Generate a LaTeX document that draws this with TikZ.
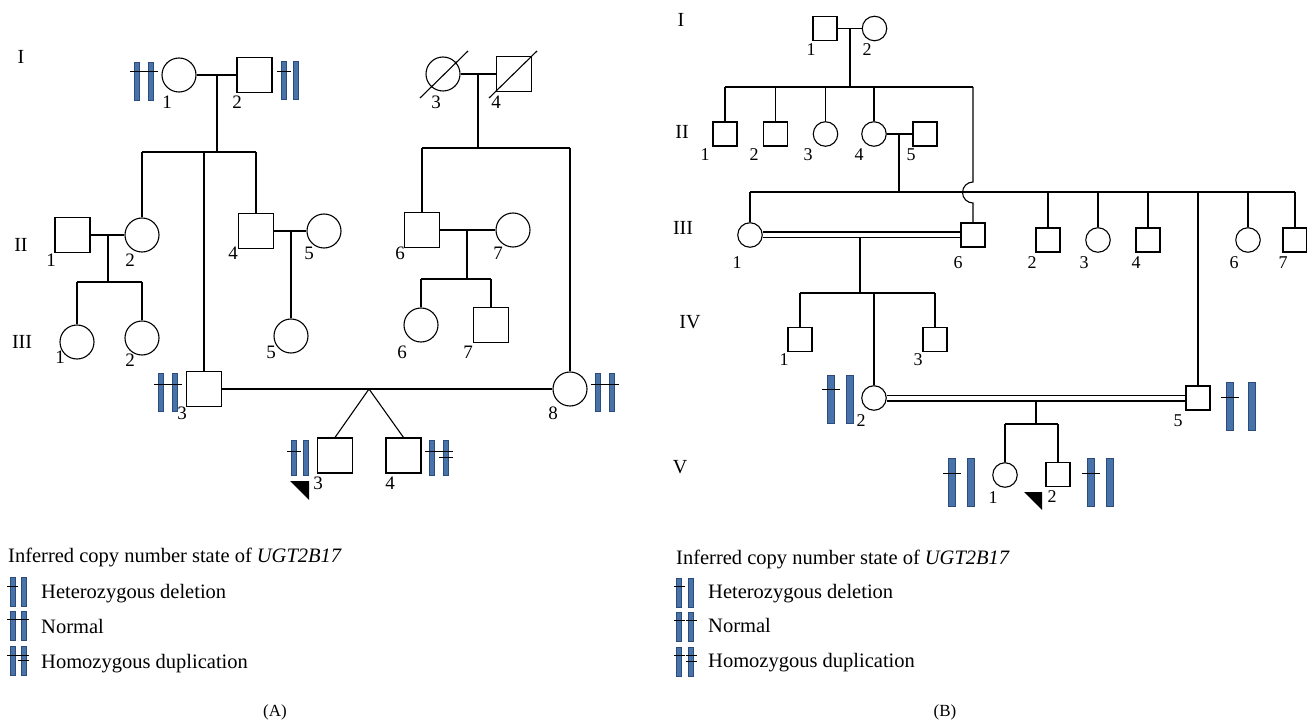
\documentclass[tikz,border=0pt]{standalone}
\usepackage{fontspec}
\setmainfont{Liberation Serif}
\definecolor{chrfill}{RGB}{72,114,170}
\definecolor{chredge}{RGB}{45,75,120}
\newcommand{\tickat}[3]{\draw[tk] ({#1-#3},#2) -- ({#1+#3},#2);}
\begin{document}
\begin{tikzpicture}[x=1pt,y=-1pt,
 ped/.style={draw, line width=1.1pt, fill=white, inner sep=0pt},
 maleA/.style={ped, rectangle, minimum size=35pt},
 femA/.style={ped, circle, minimum size=34pt},
 maleB/.style={ped, rectangle, minimum size=24pt},
 femB/.style={ped, circle, minimum size=24.5pt},
 lnk/.style={line width=1.1pt},
 dbl/.style={line width=1.1pt, double, double distance=4.8pt},
 num/.style={inner sep=0pt, font=\fontsize{19}{22}\selectfont},
 numB/.style={inner sep=0pt, font=\fontsize{18}{21}\selectfont},
 gen/.style={inner sep=0pt, font=\fontsize{20}{24}\selectfont},
 chr/.style={rectangle, fill=chrfill, draw=chredge, line width=0.5pt, inner sep=0pt},
 chrA/.style={chr, minimum width=5pt, minimum height=38pt},
 chrA2/.style={chr, minimum width=5pt, minimum height=35pt},
 chrB/.style={chr, minimum width=7pt, minimum height=48pt},
 chrL/.style={chr, minimum width=5pt, minimum height=29pt},
 tk/.style={line width=1pt},
 leg/.style={anchor=base west, inner sep=0pt, font=\fontsize{20.5}{24}\selectfont},
 captxt/.style={inner sep=0pt, font=\fontsize{17}{20}\selectfont}
]
\useasboundingbox (0,0) rectangle (1307,722);

% ================= PANEL A =================
\coordinate (mA1) at (217,75);  \coordinate (sA1) at (217,152);
\coordinate (sA1l) at (142,152); \coordinate (sA1m) at (204,152); \coordinate (sA1r) at (256,152);
\coordinate (mA2) at (478,74);  \coordinate (sA2) at (478,148);
\coordinate (sA2l) at (422,148); \coordinate (sA2r) at (570,148);
\coordinate (mA3) at (108,235); \coordinate (sA3) at (108,282);
\coordinate (sA3l) at (77,282); \coordinate (sA3r) at (142,282);
\coordinate (mA4) at (291,231);
\coordinate (mA5) at (467,230); \coordinate (sA5) at (467,279);
\coordinate (sA5l) at (421,279); \coordinate (sA5r) at (491,279);
\coordinate (tw) at (369,389);

\node[femA] (AI1) at (179,75) {};
\node[maleA] (AI2) at (254.5,75) {};
\node[femA] (AI3) at (443,74) {};
\node[maleA] (AI4) at (514,74) {};
\node[maleA] (AII1) at (72.5,235) {};
\node[femA] (AII2) at (142,235) {};
\node[maleA] (AII4) at (256,231) {};
\node[femA] (AII5) at (324,231) {};
\node[maleA] (AII6) at (422,230) {};
\node[femA] (AII7) at (513,230) {};
\node[femA] (AIII1) at (77,342) {};
\node[femA] (AIII2) at (142,338) {};
\node[femA] (AIII5) at (291,336) {};
\node[femA] (AIII6) at (421,325) {};
\node[maleA] (AIII7) at (491,325) {};
\node[maleA] (AIII3) at (204,389) {};
\node[femA] (AIII8) at (570,389) {};
\node[maleA] (AIV3) at (335,455.5) {};
\node[maleA] (AIV4) at (403.5,455.5) {};

\draw[lnk] (AI1) -- (AI2);
\draw[lnk] (mA1) -- (sA1);
\draw[lnk] (sA1l) -- (sA1r);
\draw[lnk] (sA1l) -- (AII2.north);
\draw[lnk] (sA1m) -- (AIII3.north);
\draw[lnk] (sA1r) -- (AII4.north);
\draw[lnk] (AI3) -- (AI4);
\draw[lnk] (mA2) -- (sA2);
\draw[lnk] (sA2l) -- (sA2r);
\draw[lnk] (sA2l) -- (AII6.north);
\draw[lnk] (sA2r) -- (AIII8.north);
\draw[lnk] (AII1) -- (AII2);
\draw[lnk] (mA3) -- (sA3);
\draw[lnk] (sA3l) -- (sA3r);
\draw[lnk] (sA3l) -- (AIII1.north);
\draw[lnk] (sA3r) -- (AIII2.north);
\draw[lnk] (AII4) -- (AII5);
\draw[lnk] (mA4) -- (AIII5.north);
\draw[lnk] (AII6) -- (AII7);
\draw[lnk] (mA5) -- (sA5);
\draw[lnk] (sA5l) -- (sA5r);
\draw[lnk] (sA5l) -- (AIII6.north);
\draw[lnk] (sA5r) -- (AIII7.north);
\draw[lnk] (AIII3) -- (AIII8);
\draw[lnk] (tw) -- (AIV3.north);
\draw[lnk] (tw) -- (AIV4.north);
% deceased
\draw[lnk] (420,98) -- (468,51);
\draw[lnk] (489,98) -- (537,51);
% proband
\fill (290,481) -- (309,481) -- (309,500) -- cycle;

% generation labels A
\node[gen] (gAI) at (21,57) {I};
\node[gen] (gAII) at (21,245) {II};
\node[gen] (gAIII) at (22,342) {III};
% numbers A
\node[num] at (167,102) {1};
\node[num] at (237,102) {2};
\node[num] at (436,102) {3};
\node[num] at (496,102) {4};
\node[num] at (51,260) {1};
\node[num] at (130,260) {2};
\node[num] at (233,253) {4};
\node[num] at (309,253) {5};
\node[num] at (400,253) {6};
\node[num] at (498,253) {7};
\node[num] at (60,357) {1};
\node[num] at (130,360) {2};
\node[num] at (271,352) {5};
\node[num] at (402,352) {6};
\node[num] at (468,352) {7};
\node[num] at (182,413) {3};
\node[num] at (553,413) {8};
\node[num] at (318,483) {3};
\node[num] at (390,483) {4};

% chromosomes A
\node[chrA] at (137,81) {}; \node[chrA] at (151,81) {};
\tickat{137}{72}{7} \tickat{151}{72}{7}
\node[chrA] at (284,80) {}; \node[chrA] at (296,80) {};
\tickat{284}{72}{7}
\node[chrA] at (161,392) {}; \node[chrA] at (175,392) {};
\tickat{161}{384}{7} \tickat{175}{384}{7}
\node[chrA] at (598,392) {}; \node[chrA] at (612,392) {};
\tickat{598}{384}{7} \tickat{612}{384}{7}
\node[chrA2] at (294,458) {}; \node[chrA2] at (306,458) {};
\tickat{294}{451}{7}
\node[chrA2] at (432,458) {}; \node[chrA2] at (446,458) {};
\tickat{432}{451}{7} \tickat{446}{451}{7} \tickat{446}{457}{7}

% legend A
\node[leg] at (8,562) {Inferred copy number state of \textit{UGT2B17}};
\node[chrL] at (12.5,591.5) {}; \node[chrL] at (23.5,591.5) {};
\tickat{12.5}{586}{5.5}
\node[leg] at (41,598) {Heterozygous deletion};
\node[chrL] at (12.5,626) {}; \node[chrL] at (23.5,626) {};
\tickat{12.5}{619}{5.5} \tickat{23.5}{619}{5.5}
\node[leg] at (41,633) {Normal};
\node[chrL] at (12.5,660.5) {}; \node[chrL] at (23.5,660.5) {};
\tickat{12.5}{655}{5.5} \tickat{23.5}{655}{5.5} \tickat{23.5}{660}{5.5}
\node[leg] at (41,668) {Homozygous duplication};
\node[captxt] at (275,712) {(A)};

% ================= PANEL B =================
\coordinate (mB1) at (850,28.5); \coordinate (sB1) at (850,87);
\coordinate (sB1l) at (725,87); \coordinate (sB1r) at (973,87);
\coordinate (jB1) at (973,182); \coordinate (jB2) at (973,203);
\coordinate (mB2) at (899,134); \coordinate (sB2) at (899,192);
\coordinate (sB2l) at (750,192); \coordinate (sB2r) at (1295,192);
\coordinate (mB3) at (860,235); \coordinate (sB3) at (860,293);
\coordinate (sB3l) at (800,293); \coordinate (sB3m) at (874,293); \coordinate (sB3r) at (935,293);
\coordinate (mB4) at (1036,398); \coordinate (sB4) at (1036,424);
\coordinate (sB4l) at (1005,424); \coordinate (sB4r) at (1058,424);

\node[maleB] (BI1) at (825,28.5) {};
\node[femB] (BI2) at (874.5,28.5) {};
\node[maleB] (BII1) at (725,134) {};
\node[maleB] (BII2) at (775.5,134) {};
\node[femB] (BII3) at (825.5,134) {};
\node[femB] (BII4) at (874,134) {};
\node[maleB] (BII5) at (925,134) {};
\node[femB] (BIII1) at (750,235) {};
\node[maleB] (BIII6) at (973,235) {};
\node[maleB] (BIII2) at (1048,240) {};
\node[femB] (BIII3) at (1098,240) {};
\node[maleB] (BIII4) at (1148,240) {};
\node[femB] (BIII6b) at (1248,240) {};
\node[maleB] (BIII7) at (1295,240) {};
\node[maleB] (BIV1) at (800,339.5) {};
\node[maleB] (BIV3) at (935,339.5) {};
\node[femB] (BIV2) at (874,398) {};
\node[maleB] (BV5) at (1198,398) {};
\node[femB] (BV1) at (1005,475) {};
\node[maleB] (BV2) at (1058,474.5) {};

\draw[lnk] (BI1) -- (BI2);
\draw[lnk] (mB1) -- (sB1);
\draw[lnk] (sB1l) -- (sB1r);
\draw[lnk] (sB1l) -- (BII1.north);
\draw[lnk] (775.5,87) -- (BII2.north);
\draw[lnk] (825.5,87) -- (BII3.north);
\draw[lnk] (874,87) -- (BII4.north);
\draw[lnk] (sB1r) -- (jB1) arc[start angle=90, end angle=270, radius=10.5pt] -- (BIII6.north);
\draw[lnk] (BII4) -- (BII5);
\draw[lnk] (mB2) -- (sB2);
\draw[lnk] (sB2l) -- (sB2r);
\draw[lnk] (sB2l) -- (BIII1.north);
\draw[lnk] (1048,192) -- (BIII2.north);
\draw[lnk] (1098,192) -- (BIII3.north);
\draw[lnk] (1148,192) -- (BIII4.north);
\draw[lnk] (1198,192) -- (BV5.north);
\draw[lnk] (1248,192) -- (BIII6b.north);
\draw[lnk] (sB2r) -- (BIII7.north);
\draw[lnk] (mB3) -- (sB3);
\draw[lnk] (sB3l) -- (sB3r);
\draw[lnk] (sB3l) -- (BIV1.north);
\draw[lnk] (sB3m) -- (BIV2.north);
\draw[lnk] (sB3r) -- (BIV3.north);
\draw[lnk] (mB4) -- (sB4);
\draw[lnk] (sB4l) -- (sB4r);
\draw[lnk] (sB4l) -- (BV1.north);
\draw[lnk] (sB4r) -- (BV2.north);
\draw[dbl] (BIII1) -- (BIII6);
\draw[dbl] (BIV2) -- (BV5);
% proband
\fill (1024,492) -- (1042,492) -- (1042,510) -- cycle;

% generation labels B
\node[gen] (gBI) at (681,20) {I};
\node[gen] (gBII) at (682,132) {II};
\node[gen] (gBIII) at (683,228) {III};
\node[gen] (gBIV) at (690,322) {IV};
\node[gen] (gBV) at (680,467) {V};
% numbers B
\node[numB] at (811,50) {1};
\node[numB] at (867,50) {2};
\node[numB] at (705,155) {1};
\node[numB] at (754,155) {2};
\node[numB] at (808,155) {3};
\node[numB] at (859,155) {4};
\node[numB] at (911,155) {5};
\node[numB] at (737,263) {1};
\node[numB] at (958,263) {6};
\node[numB] at (1032,263) {2};
\node[numB] at (1084,263) {3};
\node[numB] at (1136,263) {4};
\node[numB] at (1234,263) {6};
\node[numB] at (1283,263) {7};
\node[numB] at (784,360) {1};
\node[numB] at (918,360) {3};
\node[numB] at (861,421) {2};
\node[numB] at (1178,421) {5};
\node[numB] at (993,498) {1};
\node[numB] at (1052,497) {2};

% chromosomes B
\node[chrB] at (831,399) {}; \node[chrB] at (850,399) {};
\tickat{831}{389}{9}
\node[chrB] at (1230,406) {}; \node[chrB] at (1252,406) {};
\tickat{1230}{397}{9}
\node[chrB] at (952,482.5) {}; \node[chrB] at (971,482.5) {};
\tickat{952}{473}{9}
\node[chrB] at (1091,482.5) {}; \node[chrB] at (1110,482.5) {};
\tickat{1091}{473}{9}

% legend B
\node[leg] at (676,564) {Inferred copy number state of \textit{UGT2B17}};
\node[chrL] at (679,592.5) {}; \node[chrL] at (691,592.5) {};
\tickat{679}{586}{5.5}
\node[leg] at (708,598) {Heterozygous deletion};
\node[chrL] at (679,627) {}; \node[chrL] at (691,627) {};
\tickat{679}{620}{5.5} \tickat{691}{620}{5.5}
\node[leg] at (708,632) {Normal};
\node[chrL] at (679,661.5) {}; \node[chrL] at (691,661.5) {};
\tickat{679}{655}{5.5} \tickat{691}{655}{5.5} \tickat{691}{661}{5.5}
\node[leg] at (708,667) {Homozygous duplication};
\node[captxt] at (945,712) {(B)};
\end{tikzpicture}
\end{document}
